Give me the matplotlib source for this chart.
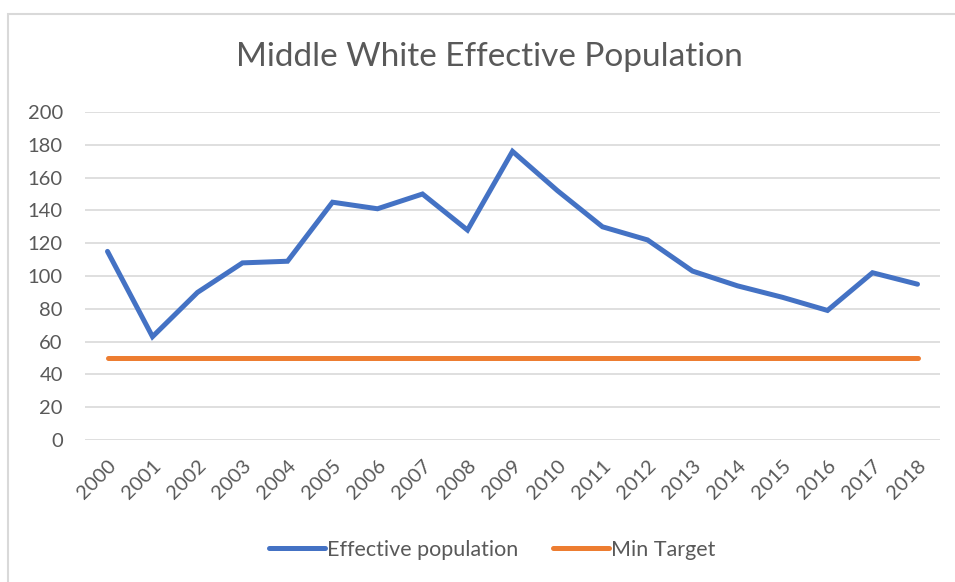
import matplotlib.pyplot as plt
from matplotlib.patches import Rectangle

years = ['2000', '2001', '2002', '2003', '2004', '2005', '2006', '2007', '2008', '2009',
         '2010', '2011', '2012', '2013', '2014', '2015', '2016', '2017', '2018']
effective_pop = [115, 63, 90, 108, 109, 145, 141, 150, 128, 176,
                 152, 130, 122, 103, 94, 87, 79, 102, 95]
min_target = [50] * len(years)
y_ticks = [0, 20, 40, 60, 80, 100, 120, 140, 160, 180, 200]

plt.rcParams['font.family'] = ['Lato', 'DejaVu Sans']
grey = '#595959'

fig = plt.figure(figsize=(9.55, 5.82), dpi=100)
ax = fig.add_axes([85 / 955, 1 - 440 / 582, 855 / 955, 328 / 582])

# chart border (only left/top visible in the reference crop)
fig.patches.append(Rectangle((8 / 955, -0.1), 1.2, 1 - 14 / 582 + 0.1, transform=fig.transFigure,
                             fill=False, edgecolor='#D9D9D9', linewidth=1.5))

x = list(range(len(years)))
ax.plot(x, effective_pop, color='#4472C4', linewidth=3.6, solid_capstyle='round',
        solid_joinstyle='miter', label='Effective population')
ax.plot(x, min_target, color='#ED7D31', linewidth=3.6, solid_capstyle='round',
        label='Min Target')

ax.set_xlim(-0.5, len(years) - 0.5)
ax.set_ylim(0, 200)
ax.set_yticks(y_ticks)
ax.set_xticks(x)
ax.set_xticklabels(years, rotation=45, ha='right', rotation_mode='anchor')
ax.tick_params(axis='both', length=0, labelsize=14.5, labelcolor=grey)
ax.tick_params(axis='y', pad=16)
ax.tick_params(axis='x', pad=12)
ax.grid(axis='y', color='#D9D9D9', linewidth=1.2)
ax.set_axisbelow(True)
for s in ax.spines.values():
    s.set_visible(False)

fig.text(489 / 955, 1 - 57 / 582, 'Middle White Effective Population', ha='center', va='center',
         fontsize=24, color=grey)

fig.legend(loc='center', bbox_to_anchor=(492 / 955, 1 - 550 / 582), ncol=2, frameon=False,
           fontsize=15.5, handlelength=2.6, handletextpad=0.1, columnspacing=1.6,
           labelcolor=grey)

fig.savefig('out.png', dpi=100)
